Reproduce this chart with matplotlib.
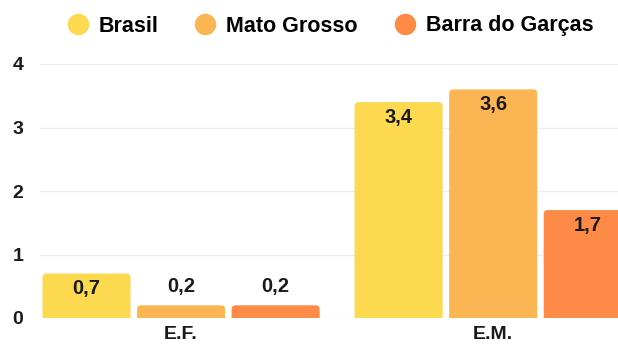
import numpy as np
import matplotlib
matplotlib.use("Agg")
import matplotlib.pyplot as plt
from matplotlib.lines import Line2D
from matplotlib.patches import FancyBboxPatch

plt.rcParams['font.family'] = ['Liberation Sans', 'DejaVu Sans']

levels = ['E.F.', 'E.M.']
series = ['Brasil', 'Mato Grosso', 'Barra do Garças']
values = {
    'Brasil': [0.7, 3.4],
    'Mato Grosso': [0.2, 3.6],
    'Barra do Garças': [0.2, 1.7],
}
colors = ['#fcd94f', '#fbb552', '#fd8a46']

W, H = 618, 345
fig = plt.figure(figsize=(W / 100, H / 100), dpi=100)
ax = fig.add_axes([40 / W, 27 / H, 1 - 40 / W, 254 / H])

xmin, xmax = -0.452, 1.40
ymin, ymax = 0, 4.0
ax.set_xlim(xmin, xmax)
ax.set_ylim(ymin, ymax)

# rounding of the bar tops, 4 px in both directions
px_x = (xmax - xmin) / (W - 40)
px_y = (ymax - ymin) / 254
rx = 4 * px_x
ry = 4 * px_y

x = np.arange(len(levels))
step = 0.303
width = 0.282
for i, (name, c) in enumerate(zip(series, colors)):
    vals = values[name]
    pos = x + (i - 1) * step
    for px, v in zip(pos, vals):
        bar = FancyBboxPatch((px - width / 2, -ry), width, v + ry,
                             boxstyle=f'round,pad=0,rounding_size={rx}',
                             mutation_aspect=ry / rx, facecolor=c,
                             edgecolor='none', zorder=3)
        ax.add_patch(bar)
        txt = f'{v:.1f}'.replace('.', ',')
        if v >= 0.5:
            ax.text(px, v - 0.09, txt, ha='center', va='top', fontsize=14.5,
                    fontweight='bold', color='#1a1a1a', zorder=4)
        else:
            ax.text(px, v + 0.14, txt, ha='center', va='bottom', fontsize=14.5,
                    fontweight='bold', color='#1a1a1a', zorder=4)

ax.set_yticks([0, 1, 2, 3, 4])
ax.set_xticks(x)
ax.set_xticklabels(levels)
for lab in ax.get_xticklabels() + ax.get_yticklabels():
    lab.set_fontweight('bold')
    lab.set_fontsize(14)
    lab.set_color('#1a1a1a')
ax.tick_params(axis='both', length=0)
ax.tick_params(axis='y', pad=12)
ax.tick_params(axis='x', pad=6)
ax.grid(axis='y', color='#ededed', linewidth=1, zorder=0)
for s in ax.spines.values():
    s.set_visible(False)

handles = [Line2D([], [], marker='o', linestyle='', markersize=14.4,
                  markerfacecolor=c, markeredgecolor=c) for c in colors]
fig.legend(handles, series, loc='center', bbox_to_anchor=(0.534, 1 - 26 / H),
           ncol=3, frameon=False, handlelength=1.0, handletextpad=0.48,
           columnspacing=1.67, prop={'weight': 'bold', 'size': 15.5})

fig.savefig('out.png', dpi=100)
